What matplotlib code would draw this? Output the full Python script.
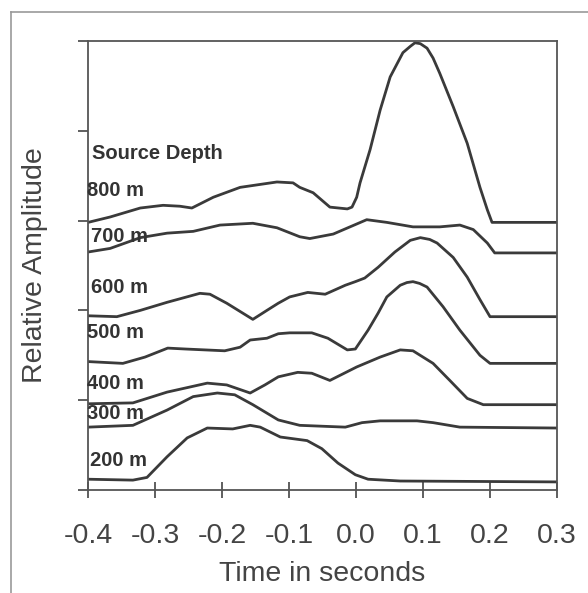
import numpy as np
import matplotlib.pyplot as plt
from matplotlib.lines import Line2D

plt.rcParams['font.family'] = ['Liberation Sans', 'DejaVu Sans']

# traces: time (s), relative amplitude (stacked)
t800 = [-0.4, -0.367, -0.322, -0.288, -0.263, -0.245, -0.213, -0.173, -0.118, -0.094, -0.084,
        -0.064, -0.039, -0.013, -0.006, 0.001, 0.006, 0.021, 0.036, 0.051, 0.070, 0.081, 0.088,
        0.096, 0.106, 0.115, 0.125, 0.145, 0.166, 0.185, 0.196, 0.203, 0.3]
a800 = [2.98, 3.04, 3.14, 3.17, 3.16, 3.14, 3.26, 3.37, 3.43, 3.42, 3.37,
        3.31, 3.15, 3.13, 3.15, 3.26, 3.42, 3.79, 4.23, 4.60, 4.87, 4.94, 4.98,
        4.97, 4.92, 4.81, 4.64, 4.27, 3.86, 3.37, 3.12, 2.98, 2.98]

t700 = [-0.4, -0.367, -0.322, -0.282, -0.243, -0.203, -0.154, -0.118, -0.084, -0.069, -0.034,
        -0.009, 0.016, 0.046, 0.085, 0.125, 0.155, 0.175, 0.196, 0.207, 0.3]
a700 = [2.65, 2.69, 2.81, 2.86, 2.88, 2.95, 2.97, 2.92, 2.82, 2.80, 2.85,
        2.93, 3.01, 2.98, 2.93, 2.93, 2.95, 2.90, 2.75, 2.64, 2.64]

t600 = [-0.4, -0.357, -0.322, -0.282, -0.233, -0.218, -0.193, -0.154, -0.133, -0.116, -0.099,
        -0.072, -0.046, -0.016, -0.001, 0.013, 0.033, 0.058, 0.081, 0.096, 0.110, 0.121, 0.145,
        0.166, 0.185, 0.200, 0.3]
a600 = [1.94, 1.93, 2.00, 2.09, 2.19, 2.18, 2.08, 1.90, 2.00, 2.08, 2.15,
        2.20, 2.18, 2.28, 2.32, 2.36, 2.48, 2.65, 2.78, 2.81, 2.79, 2.75, 2.59,
        2.37, 2.12, 1.93, 1.93]

t500 = [-0.4, -0.348, -0.315, -0.281, -0.255, -0.196, -0.173, -0.158, -0.133, -0.116, -0.099,
        -0.066, -0.042, -0.013, -0.001, 0.018, 0.033, 0.046, 0.066, 0.076, 0.085, 0.095, 0.106,
        0.130, 0.155, 0.185, 0.200, 0.3]
a500 = [1.43, 1.41, 1.48, 1.58, 1.57, 1.55, 1.59, 1.67, 1.69, 1.74, 1.75,
        1.75, 1.69, 1.56, 1.57, 1.78, 1.97, 2.15, 2.28, 2.31, 2.32, 2.30, 2.26,
        2.04, 1.78, 1.50, 1.41, 1.41]

t400 = [-0.4, -0.333, -0.282, -0.222, -0.193, -0.158, -0.136, -0.116, -0.087, -0.066, -0.039,
        0.001, 0.036, 0.066, 0.085, 0.115, 0.140, 0.166, 0.190, 0.3]
a400 = [0.96, 0.97, 1.09, 1.19, 1.17, 1.08, 1.17, 1.26, 1.31, 1.30, 1.22,
        1.37, 1.48, 1.56, 1.55, 1.41, 1.22, 1.02, 0.95, 0.95]

t300 = [-0.4, -0.333, -0.282, -0.243, -0.207, -0.181, -0.154, -0.116, -0.084, -0.016, 0.009,
        0.036, 0.091, 0.115, 0.155, 0.3]
a300 = [0.70, 0.72, 0.89, 1.04, 1.08, 1.06, 0.95, 0.78, 0.72, 0.70, 0.75,
        0.77, 0.77, 0.75, 0.70, 0.69]

t200 = [-0.4, -0.333, -0.312, -0.282, -0.252, -0.222, -0.184, -0.158, -0.143, -0.113, -0.073,
        -0.051, -0.027, -0.001, 0.018, 0.066, 0.3]
a200 = [0.12, 0.11, 0.14, 0.37, 0.58, 0.69, 0.68, 0.72, 0.70, 0.59, 0.55,
        0.46, 0.30, 0.17, 0.12, 0.10, 0.09]

traces = [(t800, a800), (t700, a700), (t600, a600), (t500, a500),
          (t400, a400), (t300, a300), (t200, a200)]

depth_labels = ['800 m', '700 m', '600 m', '500 m', '400 m', '300 m', '200 m']
label_x = [-0.402, -0.396, -0.396, -0.402, -0.402, -0.402, -0.397]
label_y = [3.34, 2.82, 2.25, 1.75, 1.19, 0.85, 0.33]

xticks = [-0.4, -0.3, -0.2, -0.1, 0.0, 0.1, 0.2, 0.3]

fig = plt.figure(figsize=(5.88, 5.93), dpi=100)
ax = fig.add_axes([0.1497, 0.1737, 0.7976, 0.7572])

line_col = '#3a3a3a'
for t, a in traces:
    ax.plot(t, a, color=line_col, lw=2.0, solid_joinstyle='round', solid_capstyle='round')

for lab, lx, ly in zip(depth_labels, label_x, label_y):
    ax.text(lx, ly, lab, fontsize=14.5, fontweight='bold', color='#333333',
            ha='left', va='center')
ax.text(-0.394, 3.75, 'Source Depth', fontsize=14.5, fontweight='bold',
        color='#333333', ha='left', va='center')

ax.set_xlim(-0.4, 0.3)
ax.set_ylim(0, 5)
ax.set_xticks(xticks)
ax.set_xticklabels(['%.1f' % v for v in xticks])
ax.set_yticks([0, 1, 2, 3, 4, 5])
ax.set_yticklabels([])
ax.tick_params(axis='x', direction='inout', length=11, width=1.2, colors='#444444',
               labelsize=20.5, pad=18)
ax.tick_params(axis='y', direction='out', length=7, width=1.2, colors='#444444')
for s in ax.spines.values():
    s.set_color('#555555')
    s.set_linewidth(1.3)

ax.set_xlabel('Time in seconds', fontsize=20.5, color='#444444', labelpad=9)
ax.set_ylabel('Relative Amplitude', fontsize=20.5, color='#444444', labelpad=18)

# scanned page frame
fig.add_artist(Line2D([11/588, 1.0], [1 - 12/593, 1 - 12/593], color='#999999', lw=1.2))
fig.add_artist(Line2D([11/588, 11/588], [0.0, 1 - 12/593], color='#999999', lw=1.2))

fig.savefig('out.png', dpi=100, facecolor='white')
